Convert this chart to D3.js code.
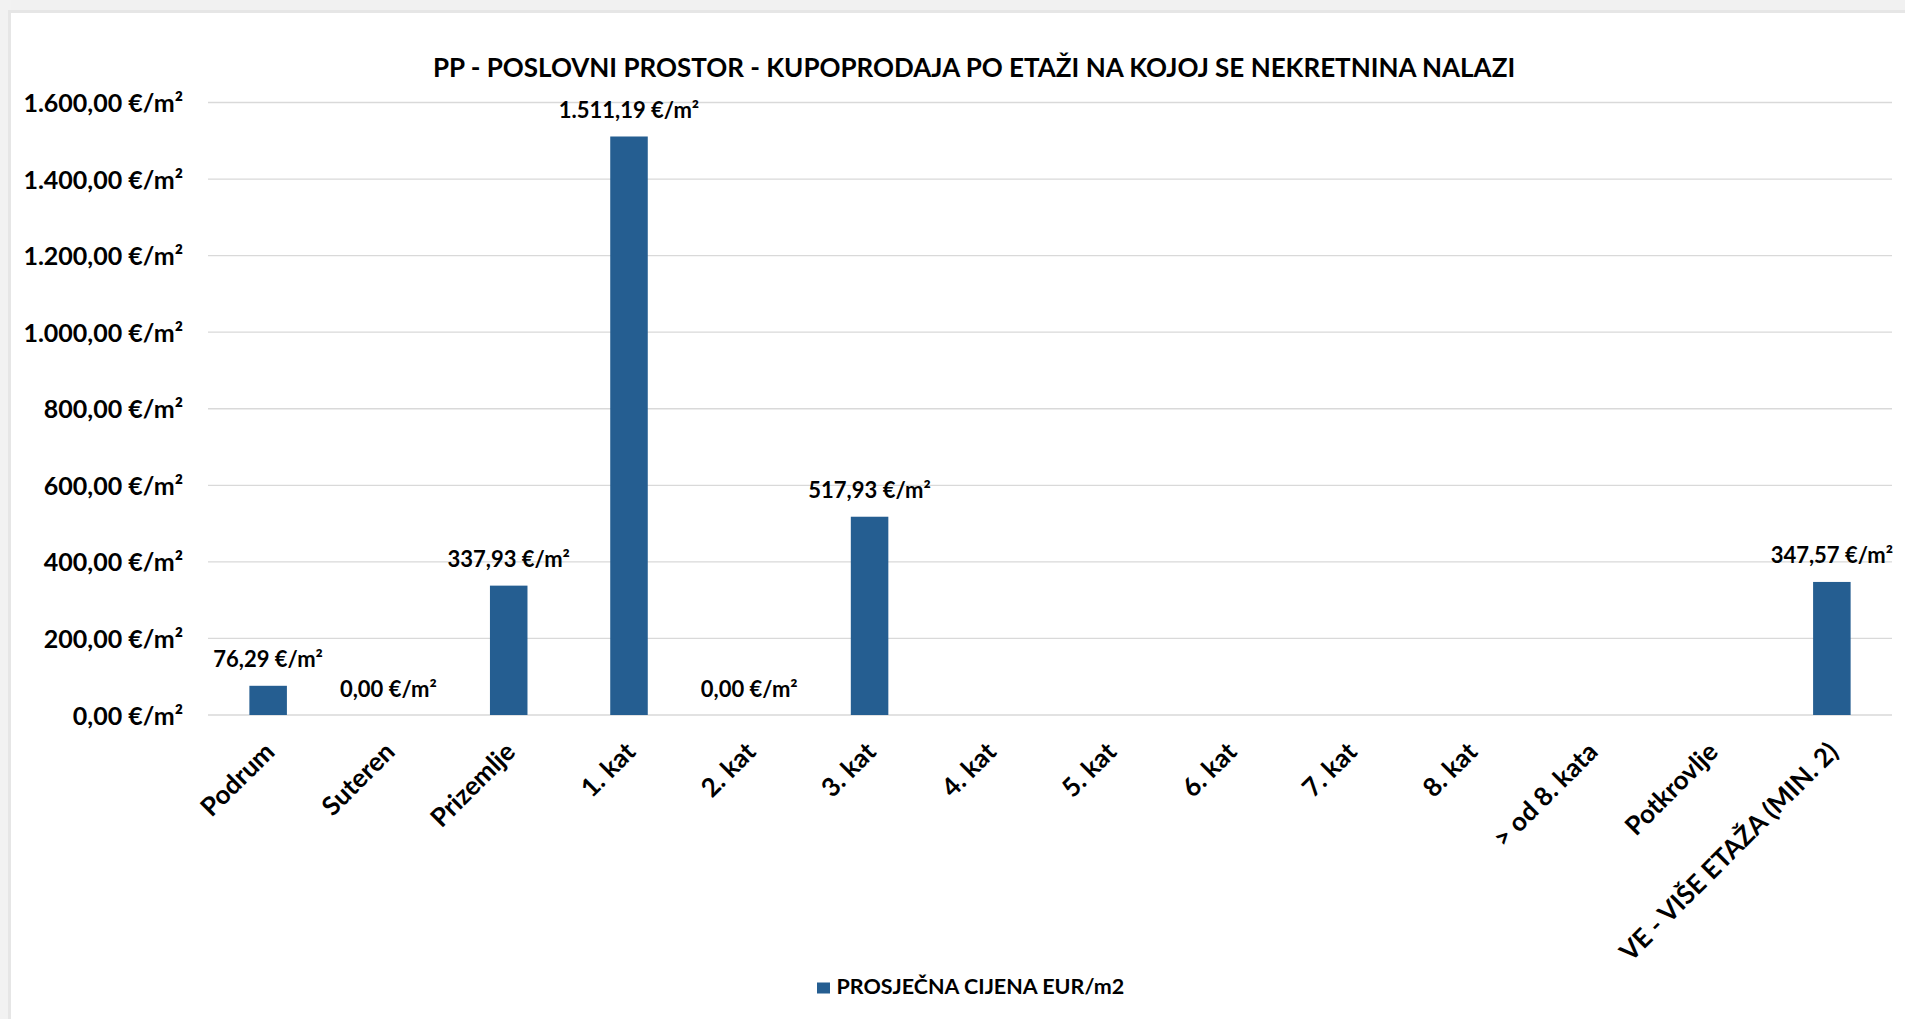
<!DOCTYPE html>
<html>
<head>
<meta charset="utf-8">
<script src="https://cdn.jsdelivr.net/npm/d3@7"></script>
<style>
  html, body { margin: 0; padding: 0; background: #ffffff; }
  svg { display: block; }
  text { font-family: Lato, "Open Sans", sans-serif; font-weight: 700; fill: #000; }
</style>
</head>
<body>
<svg id="chart" width="1905" height="1019"></svg>
<script>
// ---------- data ----------
const chartTitle = "PP - POSLOVNI PROSTOR - KUPOPRODAJA PO ETAŽI NA KOJOJ SE NEKRETNINA NALAZI";
const seriesName = "PROSJEČNA CIJENA EUR/m2";
const categories = ["Podrum", "Suteren", "Prizemlje", "1. kat", "2. kat", "3. kat", "4. kat", "5. kat",
                    "6. kat", "7. kat", "8. kat", "> od 8. kata", "Potkrovlje", "VE - VIŠE ETAŽA (MIN. 2)"];
const values = [76.29, 0.00, 337.93, 1511.19, 0.00, 517.93, null, null, null, null, null, null, null, 347.57];
const yTicks = [0, 200, 400, 600, 800, 1000, 1200, 1400, 1600];
const unitSuffix = " €/m²";

// ---------- layout ----------
const svg = d3.select("#chart");
const W = 1905, H = 1019;
const plot = { left: 208, right: 1892, top: 102.5, bottom: 715 };
const barColor = "#255e91";

// frame / shadow of the screenshot
svg.append("rect").attr("x", 0).attr("y", 0).attr("width", W).attr("height", 13).attr("fill", "#f1f1f1");
svg.append("rect").attr("x", 0).attr("y", 10).attr("width", W).attr("height", 3).attr("fill", "#e6e6e6");
svg.append("rect").attr("x", 0).attr("y", 0).attr("width", 11).attr("height", H).attr("fill", "#f2f2f2");
svg.append("rect").attr("x", 8).attr("y", 10).attr("width", 3).attr("height", H - 10).attr("fill", "#e6e6e6");

const locale = d3.formatLocale({ decimal: ",", thousands: ".", grouping: [3], currency: ["", "€"] });
const fmt = v => locale.format(",.2f")(v) + unitSuffix;

const x = d3.scaleBand().domain(categories).range([plot.left, plot.right])
  .paddingInner(0.688).paddingOuter(0.344);
const y = d3.scaleLinear().domain([0, 1600]).range([plot.bottom, plot.top]);

// gridlines
svg.append("g").selectAll("line").data(yTicks).join("line")
  .attr("x1", plot.left).attr("x2", plot.right)
  .attr("y1", d => y(d)).attr("y2", d => y(d))
  .attr("stroke", "#d9d9d9").attr("stroke-width", 1.3);

// y axis labels
const yAxis = d3.axisLeft(y).tickValues(yTicks).tickFormat(fmt).tickSize(0).tickPadding(0);
const gy = svg.append("g").attr("transform", `translate(183,0)`).call(yAxis);
gy.select(".domain").remove();
gy.selectAll("text").attr("font-size", 25).attr("font-family", "Lato, sans-serif")
  .attr("font-weight", 700).attr("fill", "#000").attr("dy", "0.36em").attr("x", 0);

// x axis labels
const xAxis = d3.axisBottom(x).tickSize(0).tickPadding(0);
const gx = svg.append("g").attr("transform", `translate(0,${plot.bottom})`).call(xAxis);
gx.select(".domain").remove();
gx.selectAll(".tick text")
  .attr("font-size", 26).attr("font-family", "Lato, sans-serif").attr("font-weight", 700).attr("fill", "#000")
  .attr("text-anchor", "end").attr("dy", 0).attr("y", 0)
  .attr("transform", "translate(8,38.5) rotate(-45)");

// bars
const data = categories.map((c, i) => ({ c, v: values[i] })).filter(d => d.v !== null);
svg.append("g").selectAll("rect").data(data).join("rect")
  .attr("x", d => x(d.c)).attr("width", x.bandwidth())
  .attr("y", d => y(d.v)).attr("height", d => y(0) - y(d.v))
  .attr("fill", barColor);

// data labels
svg.append("g").selectAll("text").data(data).join("text")
  .attr("x", d => x(d.c) + x.bandwidth() / 2)
  .attr("y", d => y(d.v) - 18.5)
  .attr("text-anchor", "middle").attr("font-size", 22)
  .text(d => fmt(d.v));

// title
svg.append("text").attr("x", 974).attr("y", 77).attr("text-anchor", "middle")
  .attr("font-size", 26).text(chartTitle);

// legend
const lg = svg.append("g");
lg.append("rect").attr("x", 817).attr("y", 982.5).attr("width", 13).attr("height", 11).attr("fill", barColor);
lg.append("text").attr("x", 836.5).attr("y", 994.3).attr("font-size", 21.5).text(seriesName);
</script>
</body>
</html>
